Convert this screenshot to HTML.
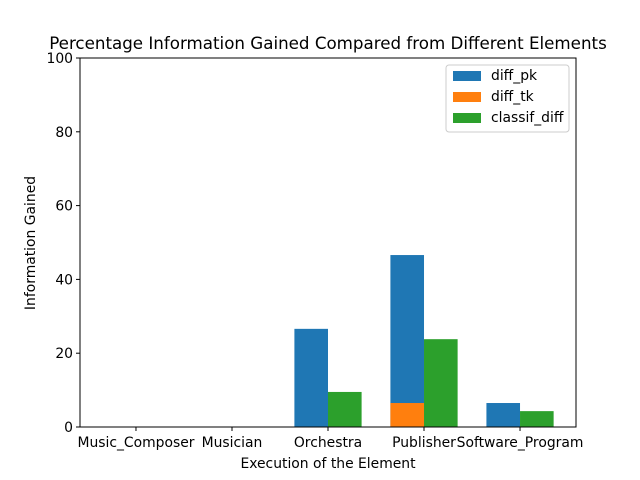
<!DOCTYPE html>
<html><head><meta charset="utf-8"><style>body{margin:0;background:#fff}svg{display:block;font-family:"DejaVu Sans","Liberation Sans",sans-serif}</style></head>
<body>
<svg id="chart" width="640" height="480">
<text x="328" y="49" text-anchor="middle" font-size="16.7">Percentage Information Gained Compared from Different Elements</text>
<g id="bars"></g>
<g id="axes"></g>
<text x="328" y="468" text-anchor="middle" font-size="13.9">Execution of the Element</text>
<text transform="translate(35,243) rotate(-90)" text-anchor="middle" font-size="13.9">Information Gained</text>
<g>
<rect x="446" y="65" width="123" height="67" fill="#fff" stroke="#ccc" rx="3"/>
<rect x="453" y="71" width="28" height="10" fill="#1f77b4"/>
<text x="491" y="80" font-size="13.9">diff_pk</text>
<rect x="453" y="92" width="28" height="10" fill="#ff7f0e"/>
<text x="491" y="101" font-size="13.9">diff_tk</text>
<rect x="453" y="113" width="28" height="10" fill="#2ca02c"/>
<text x="491" y="122" font-size="13.9">classif_diff</text>
</g>
</svg>
<script>
const categories=["Music_Composer","Musician","Orchestra","Publisher","Software_Program"];
const diffPk=[0,0,26.6,46.6,6.5];
const diffTk=[0,0,0,6.5,0];
const classifDiff=[0,0,9.5,23.8,4.3];
const yTicks=[0,20,40,60,80,100];
const NS="http://www.w3.org/2000/svg";
const L=80,R=576,T=58,B=427;
const xs=i=>L+(i+0.583)*((R-L)/5.166);
const ys=v=>B-v/100*(B-T);
const bw=0.35*((R-L)/5.166);
const bars=document.getElementById('bars'),axes=document.getElementById('axes');
function mk(tag,at,parent){const e=document.createElementNS(NS,tag);for(const k in at)e.setAttribute(k,at[k]);parent.appendChild(e);return e;}
function bar(i,v,off,color,name){const r=mk('rect',{x:xs(i)+off,y:ys(v),width:bw,height:B-ys(v),fill:color},bars);

}
categories.forEach((c,i)=>{bar(i,diffPk[i],-bw,'#1f77b4','bar-diff-pk');bar(i,diffTk[i],-bw,'#ff7f0e','bar-diff-tk');bar(i,classifDiff[i],0,'#2ca02c','bar-classif-diff');
mk('line',{x1:xs(i),x2:xs(i),y1:B,y2:B+4,stroke:'#000'},axes);
const t=mk('text',{x:xs(i),y:B+20,'text-anchor':'middle','font-size':13.9},axes);t.textContent=c;

});
yTicks.forEach(v=>{mk('line',{x1:L-4,x2:L,y1:ys(v),y2:ys(v),stroke:'#000'},axes);
const t=mk('text',{x:L-7,y:ys(v)+5,'text-anchor':'end','font-size':13.9},axes);t.textContent=v;

});
const f=mk('rect',{x:L,y:T,width:R-L,height:B-T,fill:'none',stroke:'#000','stroke-width':1},axes);


</script>
</body></html>
